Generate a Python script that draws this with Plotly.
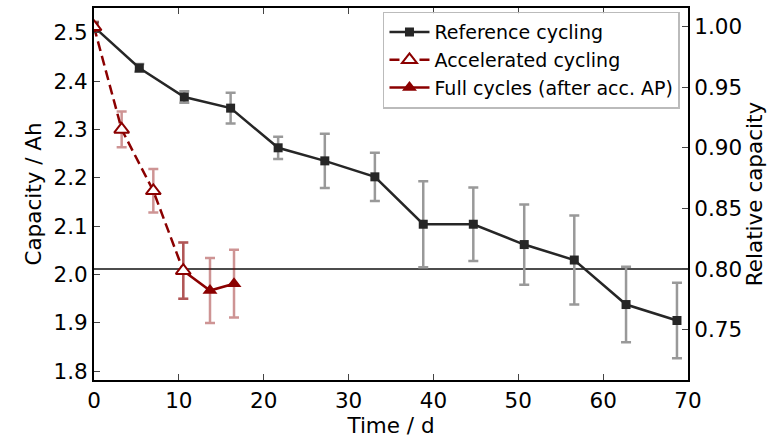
import plotly.graph_objects as go

# Reference cycling
ref_t = [0.0, 5.34, 10.64, 16.1, 21.7, 27.2, 33.1, 38.8, 44.7, 50.7, 56.6, 62.7, 68.7]
ref_c = [2.512, 2.427, 2.367, 2.344, 2.262, 2.235, 2.202, 2.104, 2.104, 2.062, 2.030, 1.938, 1.905]
ref_e = [0.010, 0.008, 0.012, 0.032, 0.023, 0.056, 0.050, 0.089, 0.076, 0.083, 0.092, 0.078, 0.078]

# Accelerated cycling
acc_t = [0.0, 3.26, 6.99, 10.52]
acc_c = [2.512, 2.300, 2.173, 2.008]
acc_e = [0.010, 0.037, 0.045, 0.058]

# Full cycles (after acc. AP)
full_t = [10.52, 13.67, 16.5]
full_c = [2.008, 1.967, 1.981]
full_e = [0.058, 0.067, 0.070]

rel_line = 0.8
left_ticks = [1.8, 1.9, 2.0, 2.1, 2.2, 2.3, 2.4, 2.5]
right_ticks = [0.75, 0.80, 0.85, 0.90, 0.95, 1.00]
x_ticks = [0, 10, 20, 30, 40, 50, 60, 70]

dark = "#262626"
red = "#8b0000"
gray_err = "#999999"
red_err = "rgba(139,0,0,0.42)"
FONT = "DejaVu Sans"
FS = 21.5

fig = go.Figure()

fig.add_trace(go.Scatter(
    x=ref_t, y=ref_c, mode="lines+markers", name="Reference cycling",
    line=dict(color=dark, width=2.5),
    marker=dict(symbol="square", size=9, color=dark),
    error_y=dict(type="data", array=ref_e, color=gray_err, thickness=2.5, width=5),
    legendrank=1,
))
fig.add_trace(go.Scatter(
    x=full_t, y=full_c, mode="lines+markers", name="Full cycles (after acc. AP)",
    line=dict(color=red, width=2.5),
    marker=dict(symbol="triangle-up", size=13, color=red),
    error_y=dict(type="data", array=full_e, color=red_err, thickness=2.5, width=5),
    legendrank=3,
))
fig.add_trace(go.Scatter(
    x=acc_t, y=acc_c, mode="lines+markers", name="Accelerated cycling",
    line=dict(color=red, width=2.5, dash="10px,5px"),
    marker=dict(symbol="triangle-up", size=13, color="white",
                line=dict(color=red, width=2)),
    error_y=dict(type="data", array=acc_e, color=red_err, thickness=2.5, width=5),
    legendrank=2,
))

# invisible trace to activate right axis
fig.add_trace(go.Scatter(x=[0], y=[1.0], yaxis="y2", mode="markers",
                         marker=dict(opacity=0), showlegend=False, hoverinfo="skip"))

fig.add_shape(type="line", xref="paper", x0=0, x1=1, yref="y2", y0=rel_line, y1=rel_line,
              line=dict(color="#111111", width=1.3), layer="below")

fig.update_layout(
    width=784, height=439,
    margin=dict(l=94, r=96, t=6, b=59),
    paper_bgcolor="white", plot_bgcolor="white",
    font=dict(family=FONT, size=FS, color="black"),
    xaxis=dict(
        range=[0, 70], tickvals=x_ticks, ticks="inside", ticklen=6, tickwidth=1.2,
        showline=True, linecolor="black", linewidth=2, mirror="ticks",
        showgrid=False, zeroline=False,
        title=dict(text="Time / d", font=dict(size=FS), standoff=4),
        tickfont=dict(size=FS),
    ),
    yaxis=dict(
        range=[1.782, 2.551], tickvals=left_ticks, tickformat=".1f",
        ticks="inside", ticklen=6, tickwidth=1.2,
        showline=True, linecolor="black", linewidth=2, mirror=False,
        showgrid=False, zeroline=False,
        title=dict(text="Capacity / Ah", font=dict(size=FS), standoff=6),
        tickfont=dict(size=FS),
    ),
    yaxis2=dict(
        overlaying="y", side="right", range=[0.7083, 1.0156],
        tickvals=right_ticks, tickformat=".2f",
        ticks="inside", ticklen=6, tickwidth=1.2,
        showline=True, linecolor="black", linewidth=2,
        showgrid=False, zeroline=False,
        title=dict(text="Relative capacity", font=dict(size=FS), standoff=4),
        tickfont=dict(size=FS),
    ),
    legend=dict(
        x=0.9865, y=0.99, xanchor="right", yanchor="top",
        bgcolor="rgba(255,255,255,0.85)", bordercolor="#bbbbbb", borderwidth=1.5,
        font=dict(size=19), traceorder="normal", tracegroupgap=0, itemwidth=40,
    ),
    showlegend=True,
)

fig.write_html("out.html")
